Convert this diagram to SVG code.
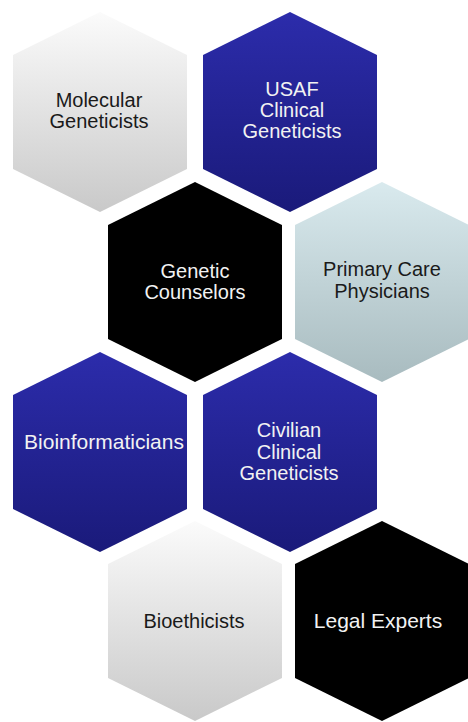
<svg xmlns="http://www.w3.org/2000/svg" xmlns:xlink="http://www.w3.org/1999/xlink" width="468" height="722" viewBox="0 0 468 722">
  <defs>
    <!-- tall hexagon centred on the origin -->
    <polygon id="hex" points="0,-100 87,-57 87,57 0,100 -87,57 -87,-57"/>
    <linearGradient id="gGray" x1="0" y1="0" x2="0" y2="1">
      <stop offset="0" stop-color="#fbfbfb"/>
      <stop offset="1" stop-color="#c9c9c9"/>
    </linearGradient>
    <linearGradient id="gBlue" x1="0" y1="0" x2="0" y2="1">
      <stop offset="0" stop-color="#2c2cab"/>
      <stop offset="1" stop-color="#1a1a7a"/>
    </linearGradient>
    <linearGradient id="gTeal" x1="0" y1="0" x2="0" y2="1">
      <stop offset="0" stop-color="#d9eaee"/>
      <stop offset="1" stop-color="#a8bbbf"/>
    </linearGradient>
  </defs>
  <style>
    .gray { fill: url(#gGray); }
    .blue { fill: url(#gBlue); }
    .teal { fill: url(#gTeal); }
    .black { fill: #000000; }
    text { font-family: "Liberation Sans", Arial, Helvetica, sans-serif; font-size: 20px; text-anchor: middle; }
    .dark { fill: #1a1a1a; }
    .light { fill: #f2f2f2; }
    .big { font-size: 21px; }
  </style>
  <rect width="468" height="722" fill="#ffffff"/>

  <g id="molecular-geneticists">
    <use xlink:href="#hex" href="#hex" x="100" y="112" class="gray"/>
    <text class="dark" x="99" y="107">Molecular</text>
    <text class="dark" x="99" y="128">Geneticists</text>
  </g>

  <g id="usaf-clinical-geneticists">
    <use xlink:href="#hex" href="#hex" x="290" y="112" class="blue"/>
    <text class="light" x="292" y="96">USAF</text>
    <text class="light" x="292" y="117">Clinical</text>
    <text class="light" x="292" y="138">Geneticists</text>
  </g>

  <g id="genetic-counselors">
    <use xlink:href="#hex" href="#hex" x="195" y="282" class="black"/>
    <text class="light" x="195" y="278">Genetic</text>
    <text class="light" x="195" y="299">Counselors</text>
  </g>

  <g id="primary-care-physicians">
    <use xlink:href="#hex" href="#hex" x="382" y="282" class="teal"/>
    <text class="dark" x="382" y="276">Primary Care</text>
    <text class="dark" x="382" y="298">Physicians</text>
  </g>

  <g id="bioinformaticians">
    <use xlink:href="#hex" href="#hex" x="100" y="452" class="blue"/>
    <text class="light big" x="104" y="449">Bioinformaticians</text>
  </g>

  <g id="civilian-clinical-geneticists">
    <use xlink:href="#hex" href="#hex" x="290" y="452" class="blue"/>
    <text class="light" x="289" y="437">Civilian</text>
    <text class="light" x="289" y="458.5">Clinical</text>
    <text class="light" x="289" y="479.5">Geneticists</text>
  </g>

  <g id="bioethicists">
    <use xlink:href="#hex" href="#hex" x="195" y="621" class="gray"/>
    <text class="dark" x="194" y="628">Bioethicists</text>
  </g>

  <g id="legal-experts">
    <use xlink:href="#hex" href="#hex" x="382" y="621" class="black"/>
    <text class="light big" x="378" y="628">Legal Experts</text>
  </g>
</svg>
